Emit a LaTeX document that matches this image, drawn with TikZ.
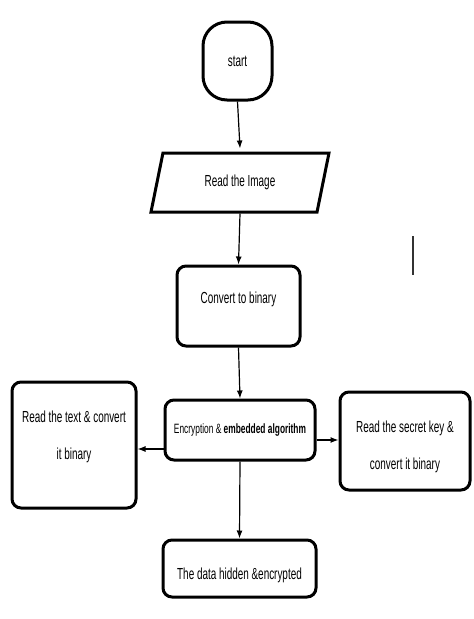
\documentclass[tikz,border=0pt]{standalone}
\usepackage{fontspec}
\setmainfont[FakeStretch=0.62]{Liberation Sans}
\usetikzlibrary{shapes.geometric,arrows.meta}

\tikzset{
  box/.style={draw, line width=3pt, rounded corners=9pt, align=center,
    font=\fontsize{16}{37}\selectfont},
  arr/.style={-{Latex[length=8pt,width=6pt]}, line width=1.2pt}
}
% strut to push text down or up inside a box
\newcommand{\dn}[1]{\rule{0pt}{#1}}
\newcommand{\up}[1]{\rule[-#1]{0pt}{#1}}

\begin{document}
\begin{tikzpicture}[x=1pt,y=-1pt]
\useasboundingbox (0,0) rectangle (474,619);

% Start terminator
\node[box, rounded corners=24pt, minimum width=69pt, minimum height=78pt] (start) at (237.5,61) {start};

% Input parallelogram
\node[draw, line width=3pt, trapezium, trapezium left angle=61, trapezium right angle=119,
  trapezium stretches body, minimum width=178pt, minimum height=59pt,
  font=\fontsize{16}{19}\selectfont] (read) at (240,182.5) {Read the Image};

% Process boxes
\node[box, minimum width=123pt, minimum height=80pt] (convert) at (238.5,306) {\up{16pt}Convert to binary};
\node[box, minimum width=150pt, minimum height=60pt, font=\fontsize{13.5}{16}\selectfont] (enc) at (240,430)
  {Encryption \& \textbf{embedded algorithm}};
\node[box, minimum width=124pt, minimum height=126pt] (left) at (74,445) {Read the text \& convert\\it binary\up{19pt}};
\node[box, minimum width=130pt, minimum height=98pt] (right) at (405,441) {\dn{23pt}Read the secret key \&\\convert it binary};
\node[box, minimum width=153pt, minimum height=57pt] (data) at (239.5,568.5) {\dn{25pt}The data hidden \&encrypted};

% Arrows
\draw[arr] (start.south) -- ([yshift=3pt]read.north);
\draw[arr] (read.south) -- (convert.north);
\draw[arr] (convert.south) -- (enc.north);
\coordinate (encl) at ([yshift=-19pt]enc.west);
\draw[arr] (encl) -- (encl -| left.east);
\coordinate (encr) at ([yshift=-10pt]enc.east);
\draw[arr] (encr) -- (encr -| right.west);
\draw[arr] (enc.south) -- (data.north);

% stray mark
\draw[line width=1.3pt, black!80] (413,236) -- (413,275);
\end{tikzpicture}
\end{document}
